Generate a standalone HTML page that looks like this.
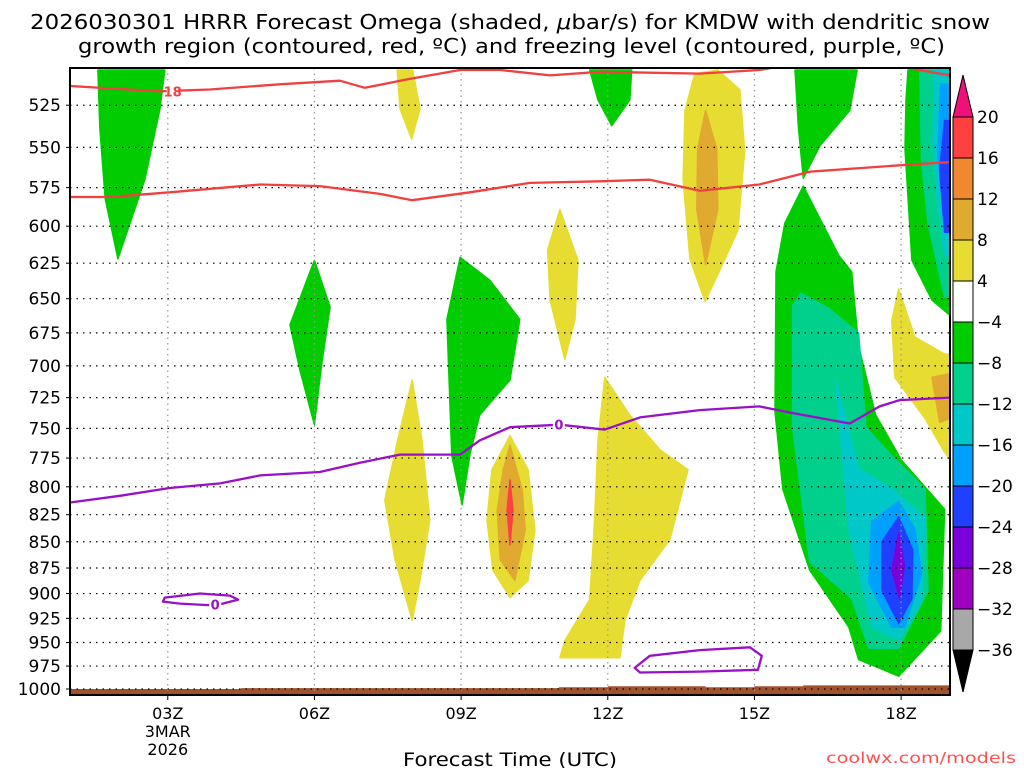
<!DOCTYPE html>
<html><head><meta charset="utf-8"><style>
body{margin:0;background:#fff;}
svg{display:block;font-family:"DejaVu Sans","Liberation Sans",sans-serif;}
</style></head><body>
<svg id="chart" width="1024" height="768" viewBox="0 0 1024 768" xmlns="http://www.w3.org/2000/svg">
<text x="30" y="29" font-size="20" textLength="960" lengthAdjust="spacingAndGlyphs">2026030301 HRRR Forecast Omega (shaded, <tspan font-style="italic">μ</tspan>bar/s) for KMDW with dendritic snow</text>
<text x="78" y="53" font-size="20" textLength="867" lengthAdjust="spacingAndGlyphs">growth region (contoured, red, ºC) and freezing level (contoured, purple, ºC)</text>
<g id="plot"></g>
<text x="403" y="766" font-size="19" textLength="214" lengthAdjust="spacingAndGlyphs">Forecast Time (UTC)</text>
<text x="826" y="763" font-size="15" fill="#ff5050" textLength="190" lengthAdjust="spacingAndGlyphs">coolwx.com/models</text>
</svg>
<script>
const ns="http://www.w3.org/2000/svg";
const pTicks=[525,550,575,600,625,650,675,700,725,750,775,800,825,850,875,900,925,950,975,1000];
const tHours=[3,6,9,12,15,18];
const tLabels=["03Z","06Z","09Z","12Z","15Z","18Z"];
const cbLevels=[20,16,12,8,4,-4,-8,-12,-16,-20,-24,-28,-32,-36];
const cbColors=["#ff4040","#f08830","#e0aa30","#e6dc32","#ffffff","#00cc00","#00d08c","#00c8c8","#00a0ff","#2040ff","#7a00dc","#a000c0","#a8a8a8"];
const regionColors=["#00cc00","#e6dc32","#00cc00","#00cc00","#e6dc32","#e6dc32","#e0aa30","#ff4040","#e6dc32","#00cc00","#e6dc32","#e6dc32","#e0aa30","#00cc00","#00cc00","#00d08c","#00c8c8","#00a0ff","#2040ff","#7a00dc","#00cc00","#00d08c","#00c8c8","#00a0ff","#2040ff","#e6dc32","#e0aa30"];
const regionHours=[
[1.57,2.94,2.84,2.53,1.98,1.72,1.61],
[7.69,8.01,8.16,7.99,7.75],
[6,6.32,6.15,6,5.7,5.5],
[8.98,9.59,10.2,10,9.38,9.18,9.02,8.81,8.71],
[8,8.2,8.36,8.16,8,7.65,7.44,7.7],
[10,10.37,10.51,10.37,10,9.65,9.53,9.63],
[10,10.25,10.31,10.1,9.8,9.74,9.86],
[10,10.06,10,9.94],
[11.02,11.39,11.33,11.12,10.82,10.77],
[11.63,12.49,12.45,12.08,11.8],
[11.94,12.45,13.07,13.64,13.27,12.66,12.35,12.25,11.02,11.12,11.63,11.73,11.8],
[14.25,14.7,14.8,14.66,14.29,13.99,13.68,13.54,13.58,13.78],
[14,14.23,14.25,14,13.82,13.84],
[15.83,17.1,16.95,16.34,16,15.9],
[16,15.62,15.44,15.42,15.58,16.13,16.93,17.13,17.95,18.81,18.89,18.01,17.48,17.13,16.99,16.73],
[15.95,16.52,17.13,17.28,17.81,18.49,18.55,17.95,17.34,16.99,16.13,15.78,15.78],
[16.66,17.13,17.81,18.49,18.42,17.95,17.4,16.93],
[17.95,18.28,18.42,18.07,17.81,17.34,17.4],
[17.95,18.24,18.22,17.95,17.61,17.61],
[17.95,18.07,17.97,17.81],
[18.14,19,19,18.63,18.22,18.08,18.1],
[18.38,19,19,18.89,18.55,18.42],
[18.69,19,19,18.89,18.75,18.65],
[18.81,19,19,18.89,18.75],
[18.89,19,19,18.89,18.79],
[17.95,18.28,18.89,19,19,18.89,18.49,17.87,17.81],
[18.63,19,19,18.79]];
const regionPress=[
[505,505,527,570,622,582,538],
[505,505,527,545,527],
[623,656,698,747,703,669],
[621,637,665,711,739,772,816,773,665],
[711,760,830,887,927,867,812,760],
[756,785,839,887,904,877,830,785],
[764,803,839,887,867,821,785],
[794,821,853,821],
[589,623,665,695,651,616],
[505,505,522,537,522],
[709,739,768,785,848,887,927,966,966,948,906,830,760],
[505,516,552,603,630,652,622,570,528,507],
[528,551,589,626,589,551],
[505,505,528,549,569,538],
[574,598,631,736,802,877,934,968,986,938,820,777,739,685,631,620],
[646,657,675,749,773,802,897,956,956,905,869,749,655],
[711,784,802,827,909,947,934,838],
[813,838,881,934,934,889,831],
[827,858,905,930,897,850],
[842,873,905,877],
[505,505,662,651,623,551,522],
[505,505,649,649,598,559],
[505,505,620,620,585,547],
[513,513,604,604,554],
[534,534,604,604,564],
[643,678,691,691,776,770,742,709,666],
[709,706,742,745]];
const redHoursA=[1,2.84,3.86,5.29,6.52,7.03,7.95,8.98,9.8,10.82,11.84,13.88,15.1,15.52,16.5,17.97,19];
const redPressA=[514,517,516,513,511,515,510,505,505,508,506,507,505,503,500,503,508];
const redHoursB=[1,1.82,3.04,4.89,6.11,7.34,8,9.18,10.41,11.84,12.86,13.88,15.1,16.13,17.97,19];
const redPressB=[581,581,578,573,574,579,583,578,572,571,570,577,573,565,561,559];
const fzHours=[1,2.02,3.04,4.07,4.89,6.11,6.93,7.75,8.98,9.38,10,11.02,11.94,12.66,13.88,15.1,15.72,16.95,17.56,17.97,19];
const fzPress=[814,808,801,797,790,787,779,772,772,760,749,747,751,741,735,732,737,746,732,727,725];
const loop1Hours=[2.94,3.66,4.27,4.44,3.97,3.25,2.9];
const loop1Press=[904,900,902,906,912,910,908];
const loop2Hours=[12.55,12.86,13.88,14.91,15.15,15.07,13.88,12.66];
const loop2Press=[977,964,958,955,964,979,981,982];
const groundHours=[1,4.5,4.5,11,11,12,12,14,14,15,15,16,16,19];
const groundPress=[1000,1000,999,999,998,998,997,997,998,998,997,997,996,996];

const X0=70,X1=950,Y0=68,Y1=695,PY1000=689;
const xs=h=>X0+(h-1)*(X1-X0)/18;
const ys=p=>PY1000-906*Math.log(1000/p);
const plot=document.getElementById('plot');
function mk(t,a,parent){const e=document.createElementNS(ns,t);for(const k in a)e.setAttribute(k,a[k]);(parent||plot).appendChild(e);return e;}
const defs=mk('defs',{});
const cp=mk('clipPath',{id:'clip'},defs);mk('rect',{x:X0,y:Y0,width:X1-X0,height:Y1-Y0},cp);
const g=mk('g',{'clip-path':'url(#clip)'});


function pts(H,P){return H.map((h,i)=>xs(h).toFixed(1)+','+ys(P[i]).toFixed(1)).join(' ');}
regionHours.forEach((H,i)=>{
  const e=mk('polygon',{points:pts(H,regionPress[i]),fill:regionColors[i],stroke:regionColors[i],'stroke-width':1.5,'stroke-linejoin':'round'},g);
  
  
});
const gp=pts(groundHours,groundPress)+' '+xs(19)+','+Y1+' '+xs(1)+','+Y1;
const ge=mk('polygon',{points:gp,fill:'#a0522d'},g);


pTicks.forEach(p=>{
  const l=mk('line',{x1:X0,x2:X1,y1:ys(p),y2:ys(p),stroke:'#000','stroke-width':1.2,'stroke-dasharray':'1.5 5'},g);
  
  
});
tHours.forEach(h=>{
  const l=mk('line',{x1:xs(h),x2:xs(h),y1:Y0,y2:Y1,stroke:'#999','stroke-width':1.2,'stroke-dasharray':'1.5 4'},g);
  
  
});
function line(H,P,col,name,closed){
  const e=mk(closed?'polygon':'polyline',{points:pts(H,P),fill:'none',stroke:col,'stroke-width':2.3,'stroke-linejoin':'round'},g);
  
  
}
line(redHoursA,redPressA,'#f04040','dgz-contour-minus18');
line(redHoursB,redPressB,'#f04040','dgz-contour-minus12');
line(fzHours,fzPress,'#9a10c8','freezing-level-contour');
line(loop1Hours,loop1Press,'#9a10c8','freezing-loop-1',true);
line(loop2Hours,loop2Press,'#9a10c8','freezing-loop-2',true);
function clabel(h,p,txt,col,name){
  mk('rect',{x:xs(h)-6,y:ys(p)-7,width:12,height:14,fill:'#fff'},g);
  const t=mk('text',{x:xs(h),y:ys(p)+5,'text-anchor':'middle','font-size':13,'font-weight':'bold',fill:col},g);
  t.textContent=txt;
  
  
}
clabel(3.1,517,'18','#f04040','contour-label-18');
clabel(11,747,'0','#9a10c8','contour-label-0');
clabel(3.97,911,'0','#9a10c8','contour-label-0-loop');
const fr=mk('rect',{x:X0,y:Y0,width:X1-X0,height:Y1-Y0,fill:'none',stroke:'#000','stroke-width':2});


pTicks.forEach(p=>{
  const t=mk('text',{x:61,y:ys(p)+6,'text-anchor':'end','font-size':17});
  t.textContent=p;
  
  
  mk('line',{x1:X0-4,x2:X0,y1:ys(p),y2:ys(p),stroke:'#000'});
});
tHours.forEach((h,i)=>{
  const t=mk('text',{x:xs(h),y:719,'text-anchor':'middle','font-size':16});
  t.textContent=tLabels[i];
  
  
  mk('line',{x1:xs(h),x2:xs(h),y1:Y1,y2:Y1+5,stroke:'#000'});
});
const d1=mk('text',{x:xs(3),y:737,'text-anchor':'middle','font-size':16});d1.textContent='3MAR';


const d2=mk('text',{x:xs(3),y:755,'text-anchor':'middle','font-size':16});d2.textContent='2026';


const CBX=953,CBW=20,cbTop=117,cbStep=41;
const cb=mk('g',{});


cbColors.forEach((c,i)=>{
  const r=mk('rect',{x:CBX,y:cbTop+i*cbStep,width:CBW,height:cbStep,fill:c,stroke:'#000','stroke-width':1},cb);
  
  
});
const tt=mk('polygon',{points:`${CBX},${cbTop} ${CBX+CBW},${cbTop} ${CBX+CBW/2},${cbTop-42}`,fill:'#f0107a',stroke:'#000'},cb);


const yb=cbTop+cbColors.length*cbStep;
const tb=mk('polygon',{points:`${CBX},${yb} ${CBX+CBW},${yb} ${CBX+CBW/2},${yb+42}`,fill:'#000',stroke:'#000'},cb);


cbLevels.forEach((v,i)=>{
  const t=mk('text',{x:977,y:cbTop+i*cbStep+6,'font-size':17},cb);
  t.textContent=v<0?'\u2212'+(-v):String(v);
  
  
});
</script>
</body></html>
